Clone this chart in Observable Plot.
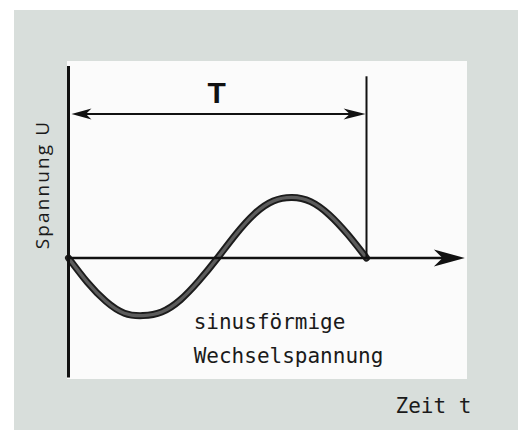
<!DOCTYPE html>
<html>
<head>
<meta charset="utf-8">
<script src="https://cdn.jsdelivr.net/npm/d3@7"></script>
<script src="https://cdn.jsdelivr.net/npm/@observablehq/plot@0.6"></script>
<style>
  html, body { margin: 0; padding: 0; background: #ffffff; }
  #wrap { position: relative; width: 524px; height: 430px; overflow: hidden; }
  #outer { position: absolute; left: 14px; top: 10px; width: 504px; height: 420px; background: #d8dedb; }
  #inner { position: absolute; left: 67px; top: 61px; width: 400px; height: 318px; background: #fbfbfb; }
  #wrap svg { position: absolute; left: 0; top: 0; }
</style>
</head>
<body>
<div id="wrap"><div id="outer"></div><div id="inner"></div></div>
<script>
// time in periods T, voltage U (relative to amplitude)
const tValues = [0, 0.0625, 0.125, 0.1875, 0.25, 0.3125, 0.375, 0.4375, 0.5, 0.5625, 0.625, 0.6875, 0.75, 0.8125, 0.875, 0.9375, 1];
const uValues = [0, -0.40, -0.72, -0.92, -0.96, -0.90, -0.70, -0.38, 0, 0.40, 0.74, 0.95, 1.01, 0.94, 0.72, 0.39, 0];

// axis extents (in data units)
const tAxisEnd = 1.33;       // arrow tip of the time axis
const uAxisRange = [-2.0, 3.19];
const periodMarkerTop = 3.02;
const periodArrowLevel = 2.4;

// texts
const yLabel = "Spannung U";
const xLabel = "Zeit t";
const periodLabel = "T";
const curveLabel = ["sinusförmige", "Wechselspannung"];

const wave = tValues.map((t, i) => ({t, u: uValues[i]}));

function stealth(L, H) {
  return {
    draw(context) {
      context.moveTo(0, 0);
      context.lineTo(-L, -H);
      context.lineTo(-0.72 * L, 0);
      context.lineTo(-L, H);
      context.closePath();
    }
  };
}

const mono = "'DejaVu Sans Mono', monospace";

const svg = Plot.plot({
  width: 524,
  height: 430,
  margin: 0,
  style: {background: "transparent", overflow: "visible"},
  x: {domain: [0, 1], range: [68, 366], axis: null},
  y: {domain: [-1, 1], range: [317.5, 197.5], axis: null},
  marks: [
    // sine curve: dark outline with grey core
    Plot.line(wave, {x: "t", y: "u", curve: "natural", stroke: "#1c1c1c", strokeWidth: 7, strokeLinecap: "round"}),
    Plot.line(wave, {x: "t", y: "u", curve: "natural", stroke: "#5c5c5c", strokeWidth: 3.2, strokeLinecap: "round"}),
    // U axis
    Plot.ruleX([0], {y1: uAxisRange[0], y2: uAxisRange[1], stroke: "#111", strokeWidth: 3}),
    // t axis with arrow
    Plot.ruleY([0], {x1: 0, x2: tAxisEnd - 0.04, stroke: "#111", strokeWidth: 2.5}),
    Plot.dot([tAxisEnd], {x: d => d, y: 0, r: 1, symbol: stealth(31, 8.5), fill: "#111", stroke: "none"}),
    // period marker
    Plot.ruleX([1], {y1: 0, y2: periodMarkerTop, stroke: "#111", strokeWidth: 2}),
    Plot.ruleY([periodArrowLevel], {x1: 0.03, x2: 0.97, stroke: "#111", strokeWidth: 2}),
    Plot.dot([0.01], {x: d => d, y: periodArrowLevel, r: 1, symbol: stealth(20, 5.5), rotate: 180, fill: "#111", stroke: "none"}),
    Plot.dot([0.997], {x: d => d, y: periodArrowLevel, r: 1, symbol: stealth(22, 5.5), fill: "#111", stroke: "none"}),
    // texts
    Plot.text([periodLabel], {x: 0.497, y: 2.59, text: d => d, lineAnchor: "bottom", textAnchor: "middle",
      fontSize: 30, fontWeight: "bold", fontFamily: "'Liberation Sans', Arial, sans-serif", fill: "#111"}),
    Plot.text([yLabel], {x: -0.066, y: 1.225, text: d => d, rotate: -90, lineAnchor: "bottom", textAnchor: "middle",
      fontSize: 19, fontFamily: "'Open Sans', sans-serif", fill: "#1a1a1a"}),
    Plot.text([curveLabel.join("\n")], {x: 0.42, y: -1.758, text: d => d, lineAnchor: "bottom", textAnchor: "start",
      lineHeight: 1.62, fontSize: 21, fontFamily: mono, fill: "#1a1a1a"}),
    Plot.text([xLabel], {x: 1.352, y: -2.575, text: d => d, lineAnchor: "bottom", textAnchor: "end",
      fontSize: 21, fontFamily: mono, fill: "#1a1a1a"})
  ]
});
// wide tracking of the rotated axis label, as in the print
d3.select(svg).selectAll("text")
  .filter(function () { return this.textContent === yLabel; })
  .style("letter-spacing", "2.1px");
document.getElementById("wrap").appendChild(svg);
</script>
</body>
</html>
